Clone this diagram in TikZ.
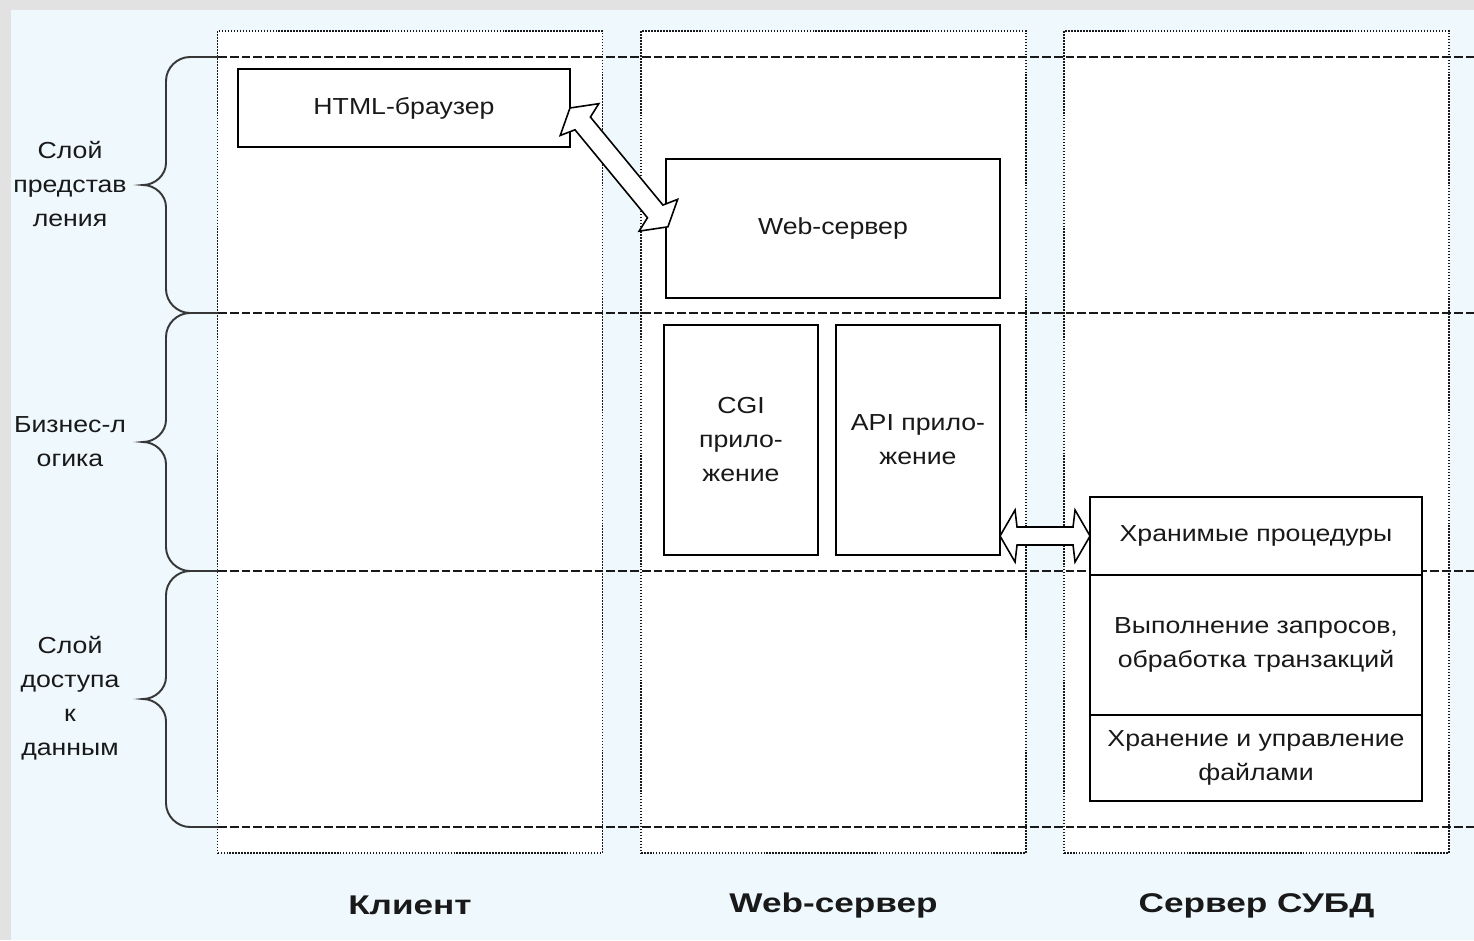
\documentclass[tikz,border=0pt]{standalone}
\usepackage{fontspec}
\setmainfont{Liberation Sans}[FakeStretch=1.15, BoldFeatures={FakeStretch=1.3}]
\usetikzlibrary{positioning}

\definecolor{pagegray}{RGB}{226,226,226}
\definecolor{bgblue}{RGB}{238,248,253}
\definecolor{bracegray}{RGB}{55,55,55}

\tikzset{
  column/.style={draw=black!90, fill=white, line width=0.85pt, dash pattern=on 0.85pt off 0.85pt, minimum width=7.7cm, minimum height=16.44cm, inner sep=0pt},
  layerline/.style={draw=black!90, line width=1pt, dash pattern=on 5pt off 1.7pt},
  layerbrace/.style={draw=bracegray, line width=1.1pt},
  box/.style={draw, fill=white, line width=1.1pt, inner sep=0pt, outer sep=0pt, align=center},
  blockarrow/.style={draw, fill=white, line width=0.9pt, line join=miter},
  txt/.style={font=\fontsize{13.2pt}{19.35pt}\selectfont, text=black!90},
  collabel/.style={font=\fontsize{15.4pt}{18pt}\selectfont\bfseries, text=black!90}
}

\begin{document}
\begin{tikzpicture}[x=0.02cm, y=-0.02cm]
        \useasboundingbox (0,0) rectangle (1474,940);
        \fill[pagegray] (0,0) rectangle (1474,940);
        \fill[bgblue] (11,10) rectangle (1474,940);

        % Tiers
        \node[column] (col1) at (410,442) {};
        \node[column] (col2) at (833.5,442) {};
        \node[column] (col3) at (1256.5,442) {};

        % Layer borders
        \foreach \y in {57,313,571,827}
            \draw[layerline] (218,\y) -- (1474,\y);

        % Layer braces
        \foreach \t/\m/\b in {57/185/313, 313/442/571, 571/699/827}
            \draw[layerbrace] (218,\t) -- (190,\t) .. controls (177,\t) and (166,\t+11) .. (166,\t+24)
                -- (166,\m-22) .. controls (166,\m-10) and (155,\m) .. (143,\m)
                .. controls (155,\m) and (166,\m+10) .. (166,\m+22)
                -- (166,\b-24) .. controls (166,\b-11) and (177,\b) .. (190,\b) -- (218,\b);

        \node[txt, align=center] (present) at (70,184) {Слой\\представ\\ления};
        \node[txt, align=center] (logic) at (70,442) {Бизнес-л\\огика};
        \node[txt, align=center] (access) at (70,698) {Слой\\доступа\\к\\данным};

        % Client and web server
        \node[box, txt, minimum width=6.64cm, minimum height=1.56cm] (browser) at (404,108) {HTML-браузер};
        \node[box, txt, minimum width=6.68cm, minimum height=2.78cm] (websrv) at (833,228.5) {Web-сервер};
        \node[box, txt, minimum width=3.08cm, minimum height=4.6cm] (cgi) at (741,440) {CGI\\прило-\\жение};
        \node[box, txt, minimum width=3.28cm, minimum height=4.6cm] (api) at (918,440) {API прило-\\жение};

        % DBMS server
        \node[box, txt, minimum width=6.64cm, minimum height=1.56cm] (proc) at (1256,536) {Хранимые процедуры};
        \node[box, txt, minimum width=6.64cm, minimum height=2.8cm, below=0pt of proc] (exec) {Выполнение запросов,\\обработка транзакций};
        \node[box, txt, minimum width=6.64cm, minimum height=1.72cm, below=0pt of exec] (files) {Хранение и управление\\файлами};

        % Double arrows
        \begin{scope}[shift={(browser.east)}, rotate=-50.5]
            \draw[blockarrow] (0,0) -- (15,-25) -- (20,-10) -- (134,-10) -- (139,-25) -- (154,0)
                -- (139,25) -- (134,10) -- (20,10) -- (15,25) -- cycle;
        \end{scope}
        \begin{scope}[shift={(proc.west)}, rotate=180]
            \draw[blockarrow] (0,0) -- (15,-26) -- (17,-9) -- (73,-9) -- (75,-26) -- (90,0)
                -- (75,26) -- (73,9) -- (17,9) -- (15,26) -- cycle;
        \end{scope}

        % Tier names
        \node[collabel] (lclient) at ([yshift=-1.04cm]col1.south) {Клиент};
        \node[collabel] (lweb) at ([yshift=-1.04cm]col2.south) {Web-сервер};
        \node[collabel] (ldbms) at ([yshift=-1.04cm]col3.south) {Сервер СУБД};
    \end{tikzpicture}
\end{document}
